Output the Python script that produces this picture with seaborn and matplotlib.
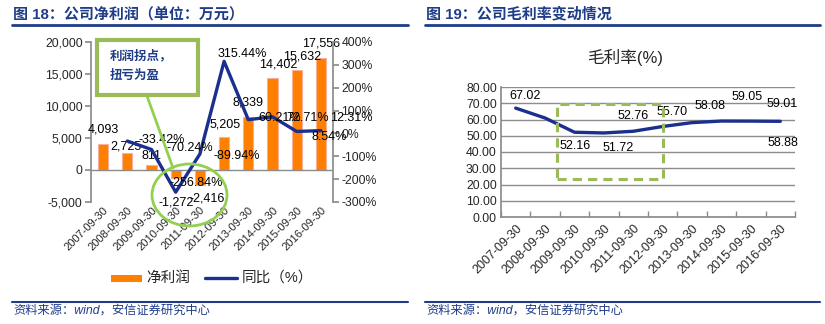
import numpy as np
import pandas as pd
import matplotlib
matplotlib.use("Agg")
import matplotlib.pyplot as plt
import seaborn as sns
from matplotlib.lines import Line2D
from matplotlib.patches import Rectangle, Ellipse
from matplotlib.ticker import FuncFormatter, FixedLocator

sns.set_theme(style="white")
plt.rcParams['font.family'] = ['Liberation Sans', 'Noto Sans CJK SC', 'DejaVu Sans']

# ---------------- data ----------------
dates = ["2007-09-30", "2008-09-30", "2009-09-30", "2010-09-30", "2011-09-30",
         "2012-09-30", "2013-09-30", "2014-09-30", "2015-09-30", "2016-09-30"]
net_profit = [4093, 2725, 811, -1272, -2416, 5205, 8339, 14402, 15632, 17556]
yoy_pct = [np.nan, -33.42, -70.24, -256.84, -89.94, 315.44, 60.21, 72.71, 8.54, 12.31]
gross_margin = [67.02, 60.9, 52.16, 51.72, 52.76, 55.70, 58.08, 59.05, 59.01, 58.88]
gm_labels = ["67.02", None, "52.16", "51.72", "52.76", "55.70", "58.08", "59.05", "59.01", "58.88"]

left_title = "图 18：公司净利润（单位：万元）"
right_title = "图 19：公司毛利率变动情况"
right_chart_title = "毛利率(%)"
source_text = "资料来源：wind，安信证券研究中心"
legend_bar = "净利润"
legend_line = "同比（%）"
callout_text = "利润拐点，\n扭亏为盈"

# label offsets (pixels) — layout only
bar_lab_off = [(0, 14), (-1, 6), (0, 9), (0, -24), (7, -13), (1, 12), (0, 14), (6, 13), (5, 13), (0, 14)]
yoy_lab_off = [None, (34, 1), (38, 1), (20, 9), (37, -2), (18, 7), (31, 2), (35, -1), (32, -6), (30, 13)]
gm_lab_off = [(9, 12), None, (1, -14), (14, -15), (0, 15), (9, 14), (18, 17), (26, 24), (31, 17), (3, -22)]

W, H = 825, 324
ORANGE = "#FF8000"
NAVY = "#1B2F8E"
TITLE_NAVY = "#1F3C88"
GREEN = "#9BBB59"
LGREEN = "#92D050"
GRAY = "#8C8C8C"
TICK_FS = 8.8
LAB_FS = 9

fig = plt.figure(figsize=(W / 100, H / 100), dpi=100)


def fx(px):
    return px / W


def fy(py):
    return 1 - py / H


# ---------------- headers / footers ----------------
for x0, x1, title in [(12, 408, left_title), (425, 820, right_title)]:
    fig.text(fx(x0 + 1), fy(14), title, color=TITLE_NAVY, fontsize=10.8, fontweight="bold",
             va="center", ha="left")
    fig.add_artist(Line2D([fx(x0), fx(x1)], [fy(25), fy(25)], color=TITLE_NAVY, lw=2))
    fig.add_artist(Line2D([fx(x0), fx(x1)], [fy(302), fy(302)], color=TITLE_NAVY, lw=1.5))
    fig.text(fx(x0 + 1), fy(311), source_text, color=TITLE_NAVY, fontsize=8.8,
             style="italic", va="center", ha="left")

# ---------------- left chart ----------------
df_l = pd.DataFrame({"date": dates, "profit": net_profit, "yoy": yoy_pct})
df_l["pos"] = np.arange(len(dates))

ax = fig.add_axes([fx(91), fy(202), fx(333 - 91), (202 - 42) / H])
sns.barplot(data=df_l, x="date", y="profit", color=ORANGE, saturation=1, width=0.42,
            edgecolor="#F6B196", linewidth=0.8, ax=ax)
ax.set_xlim(-0.5, 9.5)
ax.set_ylim(-5000, 20000)
ax.set_yticks(np.arange(-5000, 20001, 5000))
ax.yaxis.set_major_formatter(FuncFormatter(lambda v, p: f"{int(v):,}"))
ax.set_xlabel("")
ax.set_ylabel("")
for s in ["top", "bottom", "right"]:
    ax.spines[s].set_visible(False)
ax.spines["left"].set_color(GRAY)
ax.axhline(0, color=GRAY, lw=1, zorder=1)
ax.tick_params(axis="y", direction="out", length=4, color=GRAY, labelsize=TICK_FS, pad=2, left=True)
ax.tick_params(axis="x", length=0, labelsize=8, pad=2)
for lab in ax.get_xticklabels():
    lab.set_rotation(45)
    lab.set_ha("right")
    lab.set_va("top")
    lab.set_rotation_mode("anchor")

ax2 = ax.twinx()
sns.lineplot(data=df_l, x="pos", y="yoy", color=NAVY, lw=2.4, ax=ax2)
ax2.set_xlim(-0.5, 9.5)
ax2.set_ylim(-300, 400)
ax2.set_yticks(np.arange(-300, 401, 100))
ax2.yaxis.set_major_formatter(FuncFormatter(lambda v, p: f"{int(v)}%"))
ax2.set_ylabel("")
ax2.set_xlabel("")
for s in ["top", "bottom", "left"]:
    ax2.spines[s].set_visible(False)
ax2.spines["right"].set_color(GRAY)
ax2.tick_params(axis="y", direction="out", length=4, color=GRAY, labelsize=TICK_FS, pad=2, right=True)

for i, v in enumerate(net_profit):
    dx, dy = bar_lab_off[i]
    ax.annotate(f"{v:,}", (i, v), xytext=(dx, dy), textcoords="offset pixels",
                ha="center", va="center", fontsize=LAB_FS, color="black", zorder=5)
for i, v in enumerate(yoy_pct):
    if yoy_lab_off[i] is None or np.isnan(v):
        continue
    dx, dy = yoy_lab_off[i]
    ax2.annotate(f"{v:.2f}%", (i, v), xytext=(dx, dy), textcoords="offset pixels",
                 ha="center", va="center", fontsize=LAB_FS, color="black", zorder=5)

# callout (figure-pixel positioned annotation)
fig.add_artist(Rectangle((fx(97), fy(95)), fx(198 - 97), (95 - 40) / H, fill=True,
                         facecolor="white", edgecolor=GREEN, lw=3, zorder=6))
fig.text(fx(110), fy(66), callout_text, color=TITLE_NAVY, fontsize=9, fontweight="bold",
         va="center", ha="left", linespacing=1.8, zorder=7)
fig.add_artist(Line2D([fx(147), fx(173)], [fy(96), fy(168)], color=LGREEN, lw=2, zorder=4))
fig.add_artist(Ellipse((fx(189.5), fy(195)), fx(75), 62 / H, fill=False,
                       edgecolor=LGREEN, lw=2, zorder=4))

# legend
fig.add_artist(Rectangle((fx(111), fy(281.5)), fx(31), 7 / H, facecolor=ORANGE, edgecolor="none"))
fig.text(fx(146), fy(278), legend_bar, fontsize=10.5, va="center", ha="left")
fig.add_artist(Line2D([fx(205), fx(237)], [fy(278), fy(278)], color=NAVY, lw=2.4))
fig.text(fx(242), fy(278), legend_line, fontsize=10.5, va="center", ha="left")

# ---------------- right chart ----------------
df_r = pd.DataFrame({"pos": np.arange(len(dates)), "gm": gross_margin})
axr = fig.add_axes([fx(501), fy(217), fx(795 - 501), (217 - 87) / H])
sns.lineplot(data=df_r, x="pos", y="gm", color=NAVY, lw=2.4, ax=axr, zorder=3)
axr.set_xlim(-0.5, 9.5)
axr.set_ylim(0, 80)
axr.set_yticks(np.arange(0, 81, 10))
axr.yaxis.set_major_formatter(FuncFormatter(lambda v, p: f"{v:.2f}"))
axr.set_xticks(np.arange(len(dates)))
axr.set_xticklabels(dates)
axr.xaxis.set_minor_locator(FixedLocator(np.arange(-0.5, 9.6, 1.0)))
axr.set_xlabel("")
axr.set_ylabel("")
axr.grid(axis="y", color=GRAY, lw=1)
axr.grid(axis="x", visible=False)
for s in ["top", "right"]:
    axr.spines[s].set_visible(False)
for s in ["left", "bottom"]:
    axr.spines[s].set_color(GRAY)
axr.tick_params(axis="y", length=0, labelsize=TICK_FS, pad=3)
axr.tick_params(axis="x", which="major", length=0, labelsize=9, pad=4)
axr.tick_params(axis="x", which="minor", direction="in", length=4, color=GRAY, bottom=True)
for lab in axr.get_xticklabels():
    lab.set_rotation(45)
    lab.set_ha("right")
    lab.set_va("top")
    lab.set_rotation_mode("anchor")

for i, v in enumerate(gross_margin):
    if gm_labels[i] is None:
        continue
    dx, dy = gm_lab_off[i]
    axr.annotate(gm_labels[i], (i, v), xytext=(dx, dy), textcoords="offset pixels",
                 ha="center", va="center", fontsize=LAB_FS, color="black", zorder=5)

fig.text(fx(625), fy(57), right_chart_title, fontsize=12, ha="center", va="center")

# dashed highlight box
fig.add_artist(Rectangle((fx(557), fy(179)), fx(663 - 557), (179 - 104) / H, fill=False,
                         edgecolor=GREEN, lw=2.2, linestyle=(0, (3, 2)), zorder=6))

fig.savefig("out.png", dpi=100)
